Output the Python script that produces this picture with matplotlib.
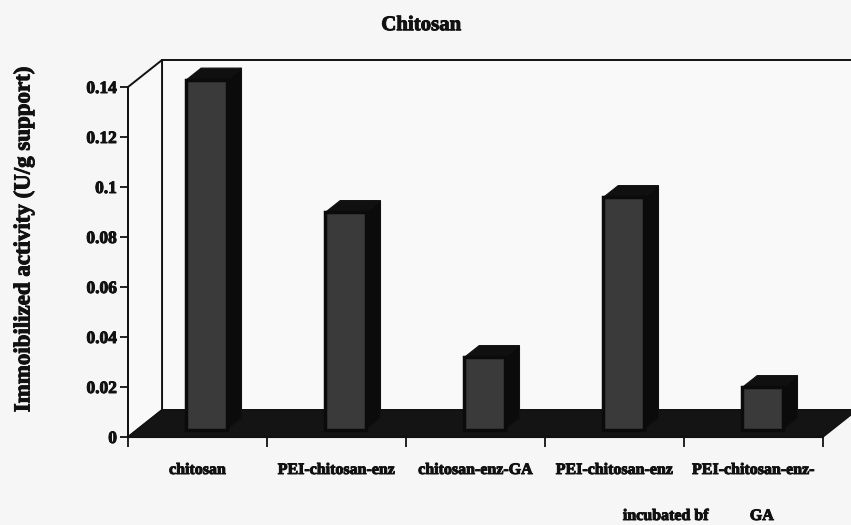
import matplotlib
matplotlib.use("Agg")
from matplotlib import pyplot as plt
from matplotlib.patches import Polygon
import matplotlib.patheffects as pe

plt.rcParams['font.family'] = ['Liberation Serif', 'DejaVu Serif']
plt.rcParams['font.weight'] = 'bold'

# immobilized activity per support
categories = ['chitosan', 'PEI-chitosan-enz', 'chitosan-enz-GA',
              'PEI-chitosan-enz', 'PEI-chitosan-enz-']
second_lines = ['', '', '', 'incubated bf', 'GA']
activity = [0.14, 0.087, 0.029, 0.093, 0.017]
yticks = [0, 0.02, 0.04, 0.06, 0.08, 0.1, 0.12, 0.14]
ytick_labels = ['0', '0.02', '0.04', '0.06', '0.08', '0.1', '0.12', '0.14']

# oblique "3D" look: depth offset of the walls in data units
DX, DY = 0.245, 0.0108
BAR_W = 0.29
F0, F1 = 0.26, 0.70   # front/back depth of the bars as fraction of DX, DY
YMAX = 0.14

ink = '#111111'
heavy = [pe.withStroke(linewidth=0.7, foreground=ink)]

fig = plt.figure(figsize=(8.51, 5.25), dpi=100, facecolor='#f6f6f6')
ax = fig.add_axes([0, 0, 1, 1])
ax.set_facecolor('none')
ax.set_xlim(-128 / 139, (851 - 128) / 139)
ax.set_ylim(-88 / 2500, (525 - 88) / 2500)

n = len(categories)

# back wall and left wall
ax.add_patch(Polygon([(DX, DY), (n + DX, DY), (n + DX, YMAX + DY), (DX, YMAX + DY)],
                     closed=True, fc='#f9f9f9', ec=ink, lw=1.4, zorder=1))
ax.add_patch(Polygon([(0, 0), (DX, DY), (DX, YMAX + DY), (0, YMAX)],
                     closed=True, fc='#f9f9f9', ec=ink, lw=1.4, zorder=1))
# floor
ax.add_patch(Polygon([(0, 0), (n, 0), (n + DX, DY), (DX, DY)],
                     closed=True, fc='#141414', ec=ink, lw=1, zorder=2))

# bars: side, top, then front face
for i, v in enumerate(activity):
    x0 = i + 0.5 - BAR_W / 2 + F0 * DX
    x1 = x0 + BAR_W
    y0 = F0 * DY
    y1 = v + y0
    ddx = (F1 - F0) * DX
    ddy = (F1 - F0) * DY
    ax.add_patch(Polygon([(x1, y0), (x1 + ddx, y0 + ddy), (x1 + ddx, y1 + ddy), (x1, y1)],
                         closed=True, fc='#0b0b0b', ec=ink, lw=0.8, zorder=3))
    ax.add_patch(Polygon([(x0, y1), (x1, y1), (x1 + ddx, y1 + ddy), (x0 + ddx, y1 + ddy)],
                         closed=True, fc='#101010', ec=ink, lw=0.8, zorder=3))
    ax.add_patch(Polygon([(x0, y0), (x1, y0), (x1, y1), (x0, y1)],
                         closed=True, fc='#3a3a3a', ec='#0b0b0b', lw=2.5, zorder=4))

# axes: value axis on the front-left edge, category ticks on the floor edge
for s in ['top', 'right']:
    ax.spines[s].set_visible(False)
ax.spines['left'].set_position(('data', 0))
ax.spines['left'].set_bounds(0, YMAX)
ax.spines['bottom'].set_position(('data', 0))
ax.spines['bottom'].set_bounds(0, n)
ax.spines['left'].set_color(ink)
ax.spines['bottom'].set_color(ink)
ax.spines['left'].set_linewidth(1.4)
ax.spines['left'].set_zorder(5)
ax.set_yticks(yticks)
ax.set_yticklabels(ytick_labels, fontsize=12.5, fontweight='bold', color=ink)
for t in ax.get_yticklabels():
    t.set_path_effects(heavy)
ax.set_xticks(range(n + 1))
ax.set_xticklabels([])
ax.tick_params(axis='y', direction='out', length=6, width=1.3, pad=2, color=ink)
ax.tick_params(axis='x', direction='out', length=7, width=1.3, color=ink)

for i, lab in enumerate(categories):
    ax.text(i + 0.5, -0.0132, lab, ha='center', va='center', fontsize=11.5,
            fontweight='bold', color=ink, path_effects=heavy)
    if second_lines[i]:
        shift = 0.37 if i == 3 else 0.06
        ax.text(i + 0.5 + shift, -0.0316, second_lines[i], ha='center', va='center',
                fontsize=11.5, fontweight='bold', color=ink, path_effects=heavy)

fig.text(0.495, 0.952, 'Chitosan', ha='center', va='center', fontsize=15,
         fontweight='bold', color=ink, path_effects=heavy)
fig.text(0.028, 0.543, 'Immoibilized activity (U/g support)', ha='center', va='center',
         rotation=90, fontsize=16.5, fontweight='bold', color=ink, path_effects=heavy)

fig.savefig('out.png', dpi=100, facecolor=fig.get_facecolor())
